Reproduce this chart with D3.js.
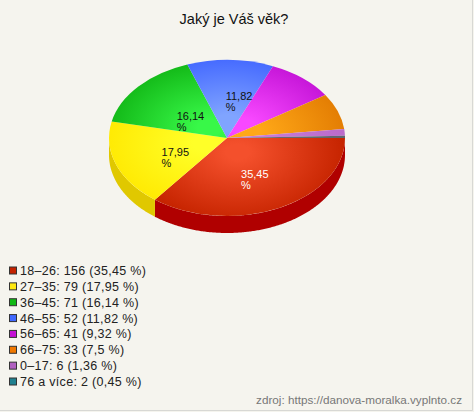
<!DOCTYPE html>
<html>
<head>
<meta charset="utf-8">
<script src="https://cdn.jsdelivr.net/npm/d3@7"></script>
<style>
  html, body { margin: 0; padding: 0; background: #f5f4ee; }
  text { font-family: "Liberation Sans", Arial, sans-serif; }
</style>
</head>
<body>
<div id="canva"></div>
<script>
const ageGroups = ["18–26", "27–35", "36–45", "46–55", "56–65", "66–75", "0–17", "76 a více"];
const counts = [156, 79, 71, 52, 41, 33, 6, 2];
const percents = ["35,45", "17,95", "16,14", "11,82", "9,32", "7,5", "1,36", "0,45"];

const topLight = ["#f4502c", "#ffff28", "#38f848", "#80a4ff", "#f848ff", "#ffa818", "#c87cd8", "#6a6a70"];
const topDark = ["#c62400", "#ffe800", "#10b414", "#3f64ff", "#c010d4", "#e07800", "#b868c8", "#5a6670"];
const sideColor = ["#b00000", "#e0c800", "#0c9010", "#3048c0", "#9008a0", "#b06000", "#905098", "#205f70"];
const legendColor = ["#c42200", "#ffe810", "#10b814", "#4068ff", "#c410d4", "#f07800", "#b060c0", "#20808f"];
const labelNudge = { 0: [2, 6], 1: [4, 6], 2: [8, 9], 3: [11, 2] };

const width = 474, height = 412;
const cx = 227, cy = 138, rx = 118, ry = 78, depth = 17;

const svg = d3.select("#canva").append("svg")
  .attr("width", width)
  .attr("height", height)
  .style("display", "block");

svg.append("rect").attr("width", width).attr("height", height).attr("fill", "#f5f4ee");
svg.append("path").attr("d", `M${width - 1.5},0V${height - 1.5}H0`).attr("fill", "none").attr("stroke", "#d8d8d4");

svg.append("text")
  .attr("x", 234).attr("y", 24)
  .attr("text-anchor", "middle")
  .attr("font-size", 14.5)
  .attr("fill", "#111")
  .text("Jaký je Váš věk?");

// d3 angles start at north, so pi/2 puts the first slice at east going clockwise
const pie = d3.pie().sort(null).startAngle(Math.PI / 2).endAngle(Math.PI * 2.5);
const slices = pie(counts);

const arc = d3.arc().innerRadius(0).outerRadius(rx);
const g = svg.append("g").attr("transform", `translate(${cx},${cy})`);

// screen angle: 0 at east, clockwise
const toT = (a) => a - Math.PI / 2;
const side = d3.area()
  .x((t) => rx * Math.cos(t))
  .y0((t) => ry * Math.sin(t))
  .y1((t) => ry * Math.sin(t) + depth);

slices.forEach((s, i) => {
  const t0 = toT(s.startAngle), t1 = Math.min(toT(s.endAngle), Math.PI);
  if (t0 >= Math.PI) return;
  const ts = d3.range(t0, t1, 0.01).concat([t1]);
  g.append("path").attr("d", side(ts)).attr("fill", sideColor[i]);
});

const defs = svg.append("defs");
slices.forEach((s, i) => {
  // highlight sits a little way out along the middle of each slice
  const mid = toT((s.startAngle + s.endAngle) / 2);
  const grad = defs.append("radialGradient")
    .attr("id", "slice" + i)
    .attr("gradientUnits", "userSpaceOnUse")
    .attr("cx", 0.2 * rx * Math.cos(mid))
    .attr("cy", 0.2 * rx * Math.sin(mid))
    .attr("r", rx);
  grad.append("stop").attr("offset", "10%").attr("stop-color", topLight[i]);
  grad.append("stop").attr("offset", "90%").attr("stop-color", topDark[i]);
});

const face = g.append("g").attr("transform", `scale(1,${ry / rx})`);
face.selectAll("path")
  .data(slices)
  .enter()
  .append("path")
  .attr("d", arc)
  .attr("fill", (d, i) => `url(#slice${i})`);

// value labels only for the big slices, wrapped like the original
slices.forEach((s, i) => {
  if (!labelNudge[i]) return;
  const t = toT((s.startAngle + s.endAngle) / 2);
  const x = cx + 0.5 * rx * Math.cos(t) - 14 + labelNudge[i][0];
  const y = cy + 0.5 * ry * Math.sin(t) + labelNudge[i][1];
  const label = svg.append("text")
    .attr("font-size", 11)
    .attr("fill", i === 0 ? "#fff" : "#111");
  label.append("tspan").attr("x", x).attr("y", y - 1).text(percents[i]);
  label.append("tspan").attr("x", x).attr("y", y + 10).text("%");
});

const rowY = d3.scalePoint().domain(d3.range(counts.length)).range([270.5, 381.5]);

const legend = svg.append("g").selectAll("g")
  .data(ageGroups)
  .enter()
  .append("g")
  .attr("transform", (d, i) => `translate(0,${rowY(i)})`);

legend.append("rect")
  .attr("x", 9.5).attr("y", -3.5)
  .attr("width", 7).attr("height", 7)
  .attr("fill", (d, i) => legendColor[i])
  .attr("stroke", "#333");

legend.append("text")
  .attr("x", 20).attr("y", 4.5)
  .attr("font-size", 12.5)
  .attr("letter-spacing", 0.3)
  .attr("fill", "#222")
  .text((d, i) => `${d}: ${counts[i]} (${percents[i]} %)`);

svg.append("text")
  .attr("x", 462).attr("y", 404)
  .attr("text-anchor", "end")
  .attr("font-size", 11.7)
  .attr("fill", "#777")
  .text("zdroj: https://danova-moralka.vyplnto.cz");
</script>
</body>
</html>
